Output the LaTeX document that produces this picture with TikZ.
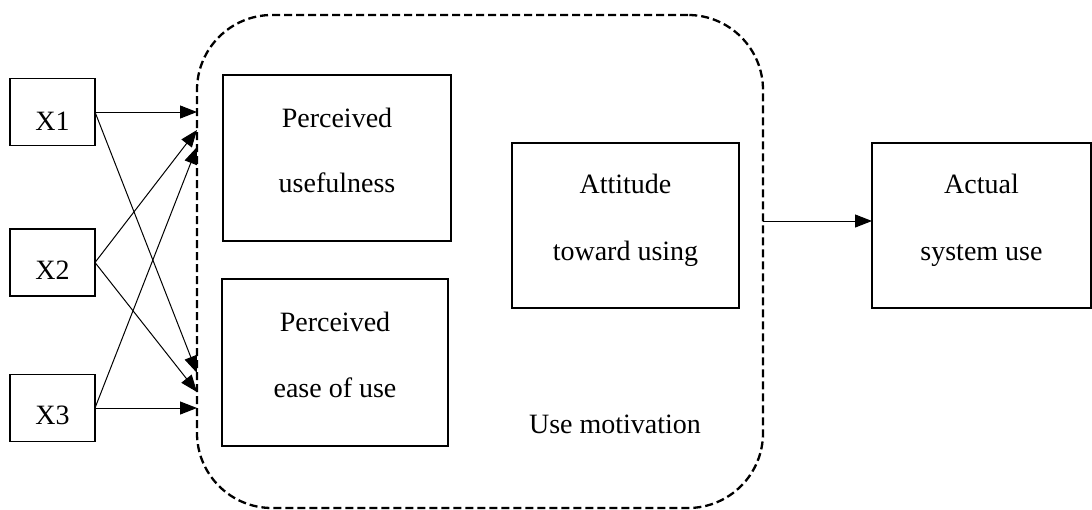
\documentclass[tikz,border=0pt]{standalone}
\usepackage{fontspec}
\setmainfont{Liberation Serif}
\usetikzlibrary{arrows.meta}
\begin{document}
\begin{tikzpicture}[x=1pt,y=-1pt,
  every node/.style={inner sep=0pt,outer sep=0pt},
  box/.style={draw,line width=1.3pt,minimum width=#1},
  lbl/.style={anchor=base,font=\fontsize{28}{33}\selectfont},
  conn/.style={line width=1pt,-{Triangle[length=17pt,width=13pt]}}]
\useasboundingbox (0,0) rectangle (1092,509);
% dashed motivation region
\node[draw,line width=2.3pt,dash pattern=on 8pt off 4pt,rounded corners=75pt,
      minimum width=566pt,minimum height=493pt] (motiv) at (480,261.5) {};
% input boxes
\node[box=85pt,minimum height=67pt] (x1) at (52.5,112) {};
\node[box=85pt,minimum height=67pt] (x2) at (52.5,262.5) {};
\node[box=85pt,minimum height=67pt] (x3) at (52.5,408) {};
\node[lbl] (tx1) at (52.5,130) {X1};
\node[lbl] (tx2) at (52.5,279) {X2};
\node[lbl] (tx3) at (52.5,424) {X3};
% inner boxes
\node[box=228pt,minimum height=166pt] (pu) at (337,158) {};
\node[box=226pt,minimum height=167pt] (peu) at (335,362.5) {};
\node[box=227pt,minimum height=165pt] (att) at (625.5,225.5) {};
\node[box=219pt,minimum height=165pt] (act) at (981.5,225.5) {};
\node[lbl] (tpu1) at (337,127) {Perceived};
\node[lbl] (tpu2) at (337,192) {usefulness};
\node[lbl] (tpe1) at (335,331) {Perceived};
\node[lbl] (tpe2) at (335,397) {ease of use};
\node[lbl] (tat1) at (625.5,193) {Attitude};
\node[lbl] (tat2) at (625.5,260) {toward using};
\node[lbl] (tac1) at (981.5,193) {Actual};
\node[lbl] (tac2) at (981.5,260) {system use};
\node[lbl] (tum) at (615,433) {Use motivation};
% arrow end points on the dashed boundary
\coordinate (e1) at (motiv.west |- x1.east);
\coordinate (e2) at (197,130);
\coordinate (e3) at (197,147);
\coordinate (e4) at (197,373);
\coordinate (e5) at (197,392);
\coordinate (e6) at (motiv.west |- x3.east);
\coordinate (m1) at (motiv.east |- 0,221);
\draw[conn] (x1.east) -- (e1);
\draw[conn] (x2.east) -- (e2);
\draw[conn] (x3.east) -- (e3);
\draw[conn] (x1.east) -- (e4);
\draw[conn] (x2.east) -- (e5);
\draw[conn] (x3.east) -- (e6);
\draw[conn] (m1) -- (act.west |- m1);
\end{tikzpicture}
\end{document}
